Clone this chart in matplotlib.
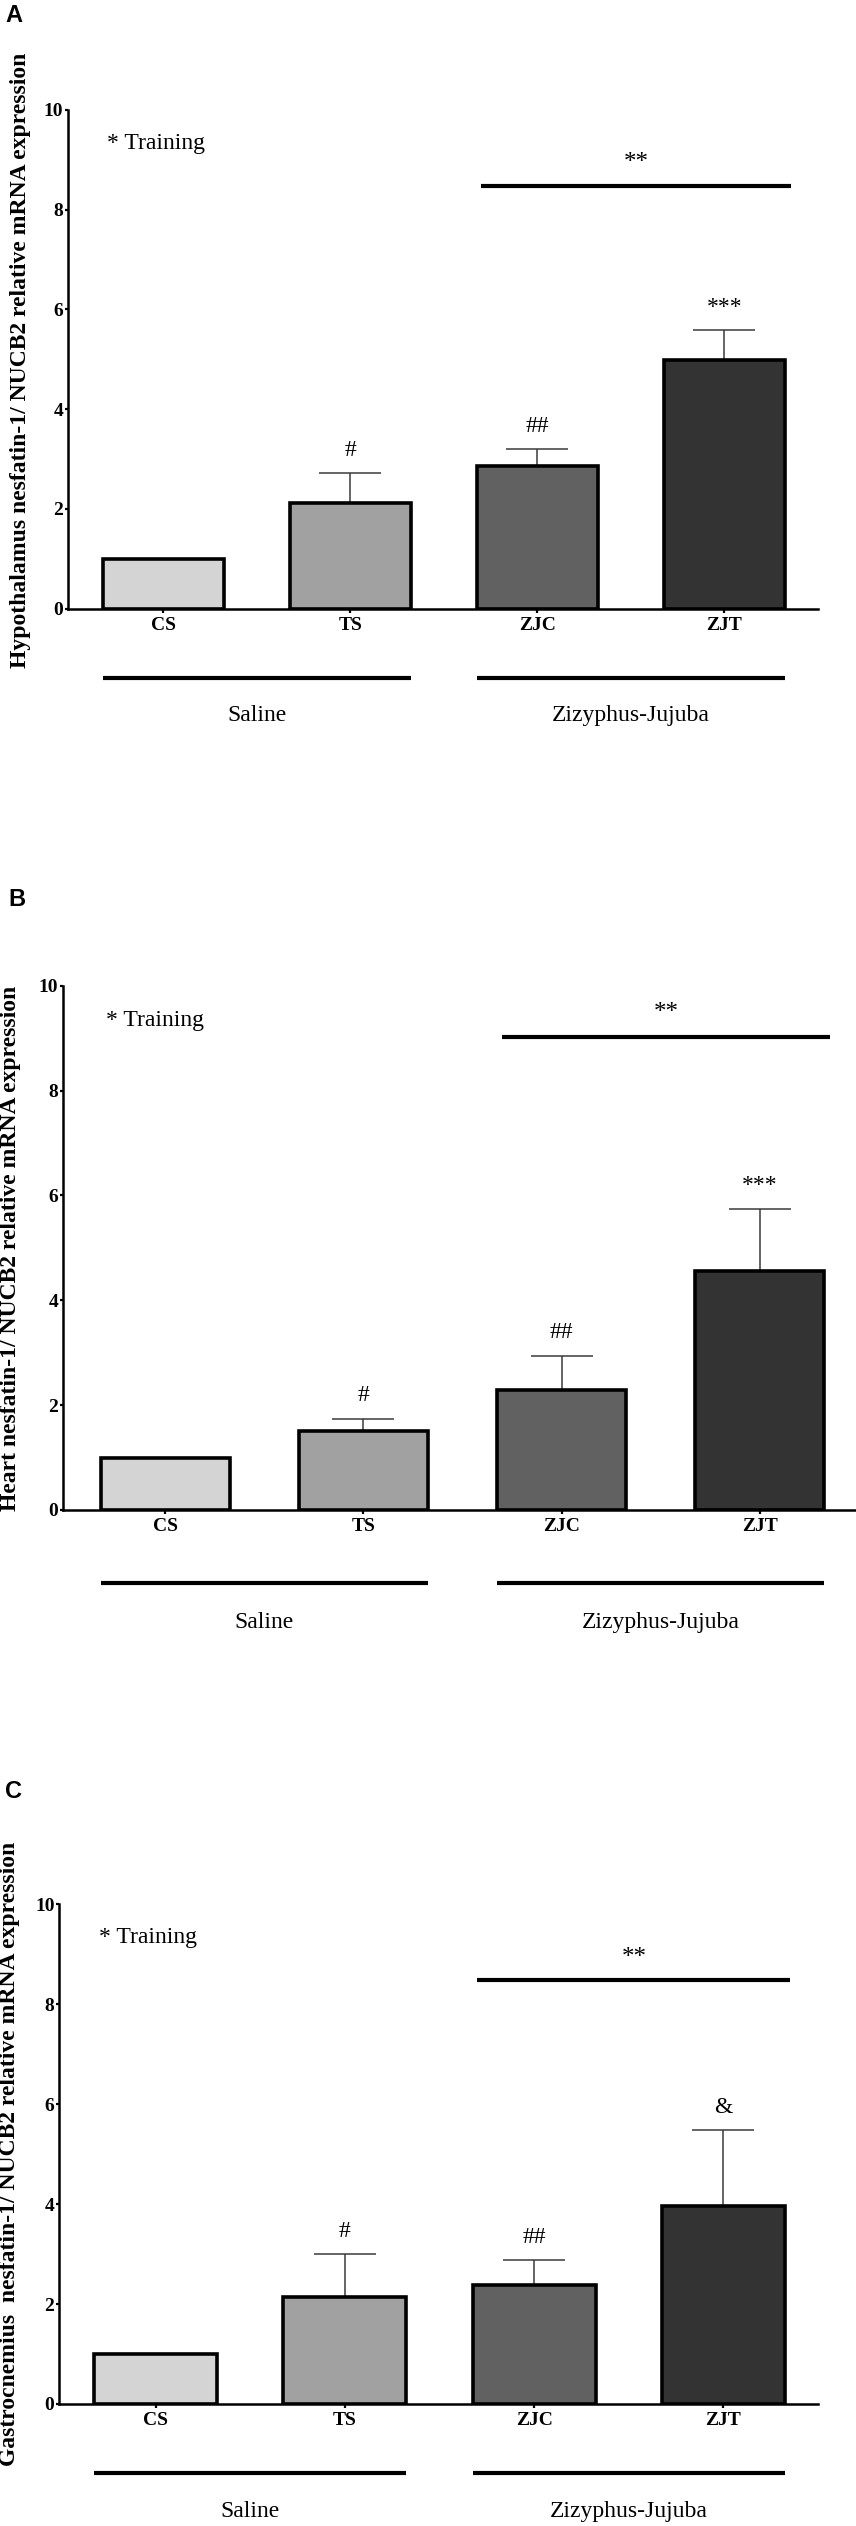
import numpy as np    # 数组操作
import matplotlib
matplotlib.use('Agg')
from matplotlib import pyplot as plt    # 绘图操作

# 数据
groups = ['CS', 'TS', 'ZJC', 'ZJT']
treatments = ['Saline', 'Zizyphus-Jujuba']
yTicks = [0, 2, 4, 6, 8, 10]

hypoMean = [1.0, 2.12, 2.87, 4.98]
hypoErr = [0.0, 0.61, 0.34, 0.60]
hypoMarks = ['', '#', '##', '***']
hypoBracket = 8.48

heartMean = [1.0, 1.51, 2.29, 4.55]
heartErr = [0.0, 0.23, 0.64, 1.19]
heartMarks = ['', '#', '##', '***']
heartBracket = 9.02

gastroMean = [1.0, 2.15, 2.39, 3.96]
gastroErr = [0.0, 0.85, 0.49, 1.53]
gastroMarks = ['', '#', '##', '&']
gastroBracket = 8.48

# 样式
barColors = ['#d4d4d4', '#a1a1a1', '#616161', '#333333']
W, H = 856, 2526
plt.rcParams['font.family'] = ['Liberation Serif', 'DejaVu Serif']

fig = plt.figure(figsize=(W / 100, H / 100), dpi=100)

panels = [
    # letter, ylabel, mean, err, marks, bracket, box(l, r, top, bottom), xlim, ylabel pos, letter pos
    ('A', 'Hypothalamus nesfatin-1/ NUCB2 relative mRNA expression', hypoMean, hypoErr, hypoMarks, hypoBracket,
     (68, 818, 110, 608.7), (-0.51, 3.50), (21, 360), (5, 15)),
    ('B', 'Heart nesfatin-1/ NUCB2 relative mRNA expression', heartMean, heartErr, heartMarks, heartBracket,
     (63, 856, 985.7, 1510), (-0.515, 3.485), (11, 1248), (8, 899)),
    ('C', 'Gastrocnemius  nesfatin-1/ NUCB2 relative mRNA expression', gastroMean, gastroErr, gastroMarks, gastroBracket,
     (59.3, 817.8, 1904.3, 2404), (-0.51, 3.50), (10, 2154), (5, 1792)),
]

barWidth = 0.65
for letter, ylabel, mean, err, marks, bracket, box, xlim, ylabPos, letPos in panels:
    l, r, t, b = box
    ax = fig.add_axes([l / W, 1 - b / H, (r - l) / W, (b - t) / H])
    x = np.arange(len(groups))
    ax.bar(x, mean, width=barWidth, color=barColors, edgecolor='black', linewidth=2.6, zorder=3)
    err = np.array(err)
    mask = err > 0
    ax.errorbar(x[mask], np.array(mean)[mask], yerr=[np.zeros(mask.sum()), err[mask]], fmt='none',
                ecolor='#3a3a3a', elinewidth=1.1, capsize=22, capthick=1.1, zorder=2)
    for xi, m, e, s in zip(x, mean, err, marks):    # 显著性标记
        if s:
            ax.text(xi, m + e + 0.45, s, ha='center', va='center', fontsize=17)
    ax.plot([1.70, 3.355], [bracket, bracket], color='black', lw=3, solid_capstyle='butt')
    ax.text((1.70 + 3.355) / 2, bracket + 0.45, '**', ha='center', va='center', fontsize=18)
    ax.text(-0.30, 9.33, '* Training', ha='left', va='center', fontsize=17)

    # 分组线与标签
    for k, name in enumerate(treatments):
        x0, x1 = 2 * k - barWidth / 2, 2 * k + 1 + barWidth / 2
        ax.plot([x0, x1], [-1.39, -1.39], color='black', lw=3, clip_on=False, solid_capstyle='butt')
        ax.text((x0 + x1) / 2, -2.15, name, ha='center', va='center', fontsize=17)

    ax.set_xlim(*xlim)
    ax.set_ylim(0, 10)
    ax.set_xticks(x)
    ax.set_xticklabels(groups, fontweight='bold', fontsize=14)
    ax.set_yticks(yTicks)
    ax.set_yticklabels([str(v) for v in yTicks], fontweight='bold', fontsize=14)
    ax.tick_params(axis='x', length=3, width=1.6, pad=3)
    ax.tick_params(axis='y', length=2.5, width=1.6, pad=1)
    for sp in ['top', 'right']:
        ax.spines[sp].set_visible(False)
    for sp in ['left', 'bottom']:
        ax.spines[sp].set_linewidth(1.8)

    fig.text(ylabPos[0] / W, 1 - ylabPos[1] / H, ylabel, rotation=90, ha='center', va='center',
             fontsize=17, fontweight='bold')
    fig.text(letPos[0] / W, 1 - letPos[1] / H, letter, ha='left', va='center', fontsize=17,
             fontweight='bold', family=['Liberation Sans', 'DejaVu Sans'])

plt.savefig('out.png', dpi=100)
